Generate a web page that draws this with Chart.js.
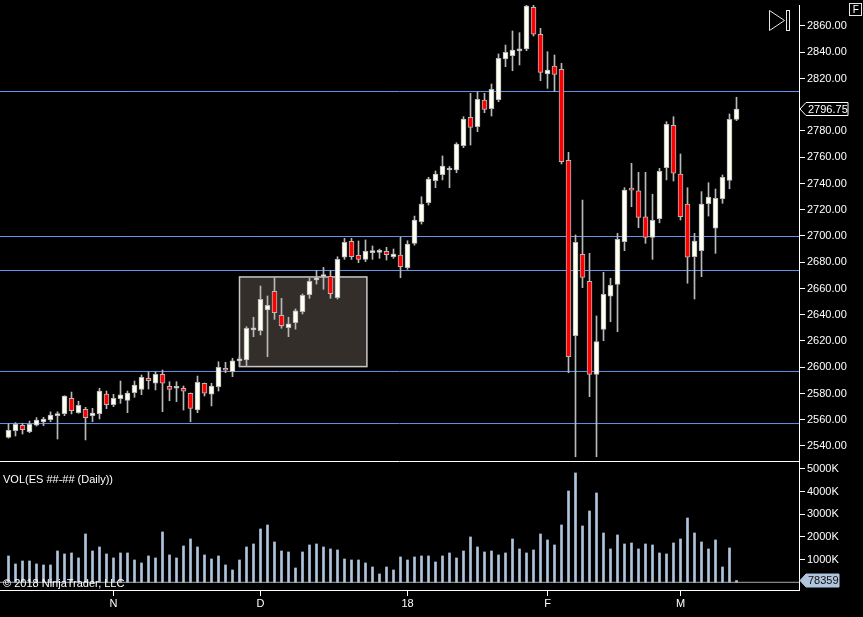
<!DOCTYPE html>
<html>
<head>
<meta charset="utf-8">
<script src="https://cdn.jsdelivr.net/npm/chart.js@4.4.1/dist/chart.umd.min.js"></script>
<style>
html, body { margin: 0; padding: 0; background: #000; overflow: hidden; }
#wrap { position: relative; width: 863px; height: 617px; background: #000; }
#price { position: absolute; left: 0; top: 0; }
#vol { position: absolute; left: 0; top: 461px; }
</style>
</head>
<body>
<div id="wrap">
  <canvas id="price" width="863" height="461"></canvas>
  <canvas id="vol" width="863" height="156"></canvas>
</div>
<script>
// daily ES bars (one entry per trading day)
const opens = [2546.5,2551.7,2555.8,2551,2555.8,2558.3,2560,2563.1,2564.6,2576.3,
  2565.4,2568,2563.1,2564.6,2579.6,2571.5,2576,2574.8,2580.6,2583.2,
  2591.6,2587.8,2594.6,2585.5,2584,2584,2580.2,2567.4,2587.8,2579.4,
  2585.2,2599.2,2596.6,2604.8,2605.5,2628.5,2627.9,2643.6,2657.9,2639.6,
  2630.2,2634,2642.3,2655.3,2666.5,2669,2669.3,2653,2683.8,2696,
  2685.3,2682.2,2687.3,2687.5,2688.3,2684.3,2685.5,2675.9,2694.4,2710.9,
  2725.4,2742.1,2746.7,2750.3,2750.3,2768.8,2790.4,2783.3,2803.6,2797,
  2803.8,2834.9,2837.4,2841,2842.5,2874.2,2853.7,2823.4,2829.5,2827,
  2757.7,2624,2686.1,2665.5,2594.6,2628.9,2654.1,2663.2,2695.7,2735.5,
  2734.5,2714.7,2699,2713.2,2752,2784.3,2747.2,2724.4,2684.3,2688.8,
  2724.6,2705.9,2728.4,2742.4,2788.9];
const highs = [2557,2557.8,2557.3,2559,2561.6,2561.9,2566,2566.1,2578.3,2581.1,
  2574.1,2569.5,2568.7,2584,2581.9,2579.4,2589.5,2581.9,2589.5,2594.1,
  2596.6,2596.6,2597.9,2589,2589,2585.7,2580.4,2593.3,2588,2587.8,
  2604.2,2603.8,2606.8,2608,2630.9,2638.1,2661.9,2654.3,2668.2,2652.5,
  2638.1,2644.4,2655.8,2667.8,2673.6,2676.1,2673.6,2684.2,2698.2,2698.2,
  2696.2,2697,2692.4,2690,2691.4,2690.1,2699,2696.4,2715.2,2729.9,
  2744.7,2749.5,2761,2753,2771.1,2790.9,2808.7,2809.9,2808.7,2815.8,
  2838.7,2845.5,2856.2,2854.9,2876,2876,2858.2,2840.4,2837.9,2831.6,
  2763.8,2700.8,2727.4,2686.8,2639.1,2672.3,2667.8,2702.1,2736.8,2755.4,
  2748.5,2748.5,2731.8,2751.6,2787.1,2790.9,2762.5,2736.8,2702,2733.8,
  2740.6,2735.8,2746.5,2793,2805.7];
const lows = [2546,2547.6,2549.1,2550.1,2555.2,2555.5,2558.5,2545.3,2563.1,2564.4,
  2564.9,2544.6,2558.5,2560.6,2568.4,2570,2572.5,2565.4,2577.1,2579.1,
  2583.4,2582.7,2566.1,2574.5,2573.8,2567.4,2558.5,2565.4,2578.1,2570.5,
  2581.9,2595.8,2592.8,2600.5,2600.5,2623.3,2624.6,2608,2636.5,2629.7,
  2623.3,2629,2640.6,2652.5,2663.4,2659.4,2652.5,2652,2682.2,2682.2,
  2679.7,2680.5,2682.2,2683,2681.7,2683,2668.2,2674.6,2693,2709.1,
  2723.6,2736.8,2742.7,2736.8,2748.2,2767.3,2769.3,2779.5,2793.9,2791.4,
  2802.3,2829,2825.9,2830.3,2841.2,2852.4,2818.3,2812.5,2810,2754.9,
  2595.8,2531.8,2660.6,2577.6,2531.8,2620.2,2634.7,2627.1,2688.8,2722.3,
  2706.3,2694.4,2682.2,2710,2742.7,2741.9,2712.2,2664,2652,2669,
  2715.2,2686.8,2724.9,2736,2787.9];
const closes = [2552,2556.5,2552.4,2556.5,2559.8,2560.6,2563.6,2564.6,2578.1,2566.9,
  2571,2561.6,2565.1,2581.9,2571.5,2576.3,2578.9,2580.4,2586.5,2592.3,
  2589.8,2594.6,2587.8,2583.2,2585.5,2581.7,2568.7,2588.5,2580.2,2585.7,
  2600,2597.7,2604.8,2605.5,2629.7,2629,2651.8,2647.2,2641.6,2631.7,
  2633,2642.9,2654.8,2665.5,2668.2,2669.5,2656,2682.2,2695.2,2684.3,
  2682.2,2688.3,2687.8,2688,2685.8,2686.3,2676.6,2693.9,2712.2,2724.4,
  2743.4,2747.2,2753.3,2750.8,2770.1,2789.1,2782.8,2804.2,2796.5,2811.8,
  2835.4,2840,2841.7,2841.5,2875.2,2853.7,2824.7,2826.5,2823.2,2756.6,
  2608,2695.2,2668.5,2594.6,2619.5,2655.6,2662.4,2697.5,2735,2735,
  2714.2,2699,2712,2749.3,2785.1,2747.8,2714.7,2683.8,2696.2,2724.4,
  2729.7,2728.7,2744.7,2788.9,2796.75];
// volume in thousands of contracts
const volumesK = [1162,809,941,941,809,765,765,1382,1250,1294,
  1074,2132,1382,1559,1250,1074,1294,1294,985,853,
  1162,1074,2221,1206,1074,1603,1912,1559,1206,1029,
  1162,765,544,985,1559,1691,2353,2529,1779,1382,
  1338,632,1338,1647,1691,1559,1471,1426,1029,985,
  985,853,676,368,676,544,1118,985,1118,1162,
  1162,897,1162,1294,1074,1382,2000,1559,1338,1382,
  1206,1294,1912,1471,1294,1426,2132,1868,1647,2529,
  4029,4824,2485,3147,3941,2176,1471,2088,1691,1735,
  1471,1691,1647,1294,1250,1735,1912,2838,2176,1779,
  1471,1868,676,1515,78.359];

const tickIndex = [15, 36, 57, 77, 96];
const tickText = ['N', 'D', '18', 'F', 'M'];
// 2800 label is hidden behind the last-price tag
const priceTicks = [2540,2560,2580,2600,2620,2640,2660,2680,2700,2720,2740,2760,2780,2820,2840,2860];
const volTicks = [1000, 2000, 3000, 4000, 5000];
const levels = [2810.1, 2699.6, 2673.7, 2596.8, 2557.1];
const zoneIdx = [33, 51.2];
const zonePrice = [2600.5, 2668.8];

const FONT = { family: 'Arial, "Liberation Sans", sans-serif', size: 11 };
const xMin = -8.5 / 7, xMax = (799 - 8.5) / 7;
const days = opens.map((_, i) => i);
const wickCol = '#b8b8b8';

function fixAxis(w, h) {
  return function (s) {
    if (w) s.width = w;
    if (h) s.height = h;
    s.paddingTop = 0; s.paddingBottom = 0; s.paddingLeft = 0; s.paddingRight = 0;
  };
}

function drawTag(ctx, x, y, w, text, fill, stroke, txt) {
  ctx.save();
  ctx.beginPath();
  ctx.moveTo(x, y);
  ctx.lineTo(x + 6, y - 6.5);
  ctx.lineTo(x + 6 + w, y - 6.5);
  ctx.lineTo(x + 6 + w, y + 6.5);
  ctx.lineTo(x + 6, y + 6.5);
  ctx.closePath();
  ctx.fillStyle = fill;
  ctx.fill();
  ctx.strokeStyle = stroke;
  ctx.lineWidth = 1;
  ctx.stroke();
  ctx.fillStyle = txt;
  ctx.font = '11px ' + FONT.family;
  ctx.textBaseline = 'middle';
  ctx.fillText(text, x + 8, y + 0.5);
  ctx.restore();
}

const zonePlugin = {
  id: 'zone',
  beforeDatasetsDraw(chart) {
    const { ctx, scales: { x, y } } = chart;
    const x0 = x.getPixelForValue(zoneIdx[0]), x1 = x.getPixelForValue(zoneIdx[1]);
    const y0 = y.getPixelForValue(zonePrice[1]), y1 = y.getPixelForValue(zonePrice[0]);
    ctx.save();
    ctx.fillStyle = '#332e29';
    ctx.fillRect(x0, y0, x1 - x0, y1 - y0);
    ctx.strokeStyle = '#c8c8c8';
    ctx.lineWidth = 1.5;
    ctx.strokeRect(x0, y0, x1 - x0, y1 - y0);
    ctx.restore();
  }
};

const priceExtras = {
  id: 'priceExtras',
  afterDraw(chart) {
    const { ctx, chartArea, scales: { y } } = chart;
    const last = closes[closes.length - 1];
    drawTag(ctx, chartArea.right + 1, y.getPixelForValue(last), 42, last.toFixed(2), '#000', '#fff', '#fff');
    // play-to-end button and F box
    ctx.save();
    ctx.strokeStyle = '#e6e6e6';
    ctx.lineWidth = 1;
    ctx.beginPath();
    ctx.moveTo(769.5, 10.5); ctx.lineTo(784.5, 20.5); ctx.lineTo(769.5, 30.5); ctx.closePath();
    ctx.stroke();
    ctx.strokeRect(786.5, 10.5, 3, 20);
    ctx.strokeRect(849.5, 3.5, 12, 12);
    ctx.fillStyle = '#fff';
    ctx.font = '10px ' + FONT.family;
    ctx.textAlign = 'center';
    ctx.textBaseline = 'middle';
    ctx.fillText('F', 855.8, 10);
    ctx.restore();
  }
};

const volExtras = {
  id: 'volExtras',
  afterDraw(chart) {
    const { ctx, chartArea, scales: { y } } = chart;
    ctx.save();
    ctx.strokeStyle = '#fff';
    ctx.lineWidth = 1;
    ctx.beginPath();
    ctx.moveTo(0, chartArea.top + 0.5);
    ctx.lineTo(chartArea.right, chartArea.top + 0.5);
    ctx.stroke();
    ctx.fillStyle = '#fff';
    ctx.font = '11px ' + FONT.family;
    ctx.textBaseline = 'middle';
    ctx.fillText('VOL(ES ##-## (Daily))', 3, 18.5);
    ctx.fillText('\u00a9 2018 NinjaTrader, LLC', 3, 123);
    ctx.restore();
    const lastV = volumesK[volumesK.length - 1];
    drawTag(ctx, chartArea.right + 1, y.getPixelForValue(lastV), 33, String(Math.round(lastV * 1000)), '#b0c4de', '#b0c4de', '#111');
  }
};

Chart.defaults.font = FONT;
Chart.defaults.color = '#fff';

new Chart(document.getElementById('price'), {
  data: {
    datasets: [
      {
        type: 'bar',
        data: days.map(i => ({ x: i, y: [opens[i], closes[i]] })),
        backgroundColor: days.map(i => closes[i] >= opens[i] ? '#fffff2' : '#ff0000'),
        borderColor: wickCol,
        borderWidth: 1,
        borderSkipped: false,
        barThickness: 5,
        minBarLength: 2,
        grouped: false,
        order: 0
      },
      {
        type: 'bar',
        data: days.map(i => ({ x: i, y: [lows[i], highs[i]] })),
        backgroundColor: wickCol,
        barThickness: 1,
        grouped: false,
        order: 1
      },
      ...levels.map(v => ({
        type: 'line',
        data: [{ x: xMin, y: v }, { x: xMax, y: v }],
        borderColor: '#6495ed',
        borderWidth: 1,
        pointRadius: 0,
        order: 2
      }))
    ]
  },
  options: {
    responsive: false,
    animation: false,
    events: [],
    layout: { padding: { top: 5, left: 0, right: 0, bottom: 0 } },
    plugins: { legend: { display: false }, tooltip: { enabled: false } },
    scales: {
      x: { type: 'linear', min: xMin, max: xMax, offset: false, display: false },
      y: {
        position: 'right',
        min: 2528.57,
        max: 2876,
        afterBuildTicks: s => { s.ticks = priceTicks.map(v => ({ value: v })); },
        afterFit: fixAxis(64, 0),
        ticks: { color: '#fff', padding: 2, callback: v => Number(v).toFixed(2) },
        grid: { drawOnChartArea: false, tickLength: 6, tickColor: '#fff' },
        border: { color: '#fff', width: 1 }
      }
    }
  },
  plugins: [zonePlugin, priceExtras]
});

new Chart(document.getElementById('vol'), {
  data: {
    datasets: [
      {
        type: 'bar',
        data: days.map(i => ({ x: i, y: volumesK[i] })),
        backgroundColor: '#b0c4de',
        barThickness: 2,
        order: 0
      },
      {
        type: 'line',
        data: [{ x: xMin, y: 0 }, { x: xMax, y: 0 }],
        borderColor: '#a8a8a8',
        borderWidth: 1,
        pointRadius: 0,
        order: 1
      }
    ]
  },
  options: {
    responsive: false,
    animation: false,
    events: [],
    layout: { padding: 0 },
    plugins: { legend: { display: false }, tooltip: { enabled: false } },
    scales: {
      x: {
        type: 'linear',
        min: xMin,
        max: xMax,
        offset: false,
        position: 'bottom',
        afterBuildTicks: s => { s.ticks = tickIndex.map(v => ({ value: v })); },
        afterFit: fixAxis(0, 27),
        ticks: { color: '#fff', padding: 1, autoSkip: false, maxRotation: 0,
                 callback: v => tickText[tickIndex.indexOf(v)] },
        grid: { offset: false, drawOnChartArea: false, tickLength: 6, tickColor: '#fff' },
        border: { color: '#fff', width: 1 }
      },
      y: {
        position: 'right',
        min: -340,
        max: 5351,
        afterBuildTicks: s => { s.ticks = volTicks.map(v => ({ value: v })); },
        afterFit: fixAxis(64, 0),
        ticks: { color: '#fff', padding: 2, callback: v => v + 'K' },
        grid: { drawOnChartArea: false, tickLength: 6, tickColor: '#fff' },
        border: { color: '#fff', width: 1 }
      }
    }
  },
  plugins: [volExtras]
});
</script>
</body>
</html>
